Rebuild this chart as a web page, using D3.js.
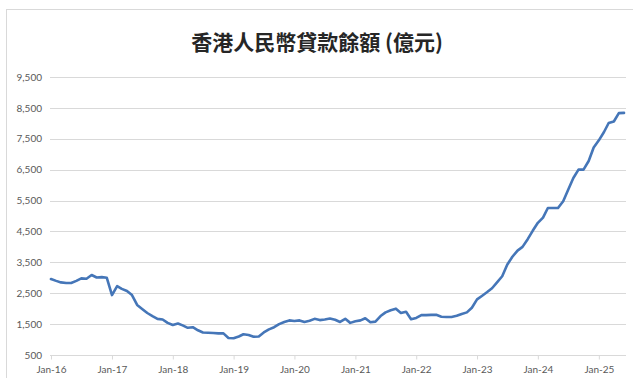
<!DOCTYPE html>
<html><head><meta charset="utf-8">
<script src="https://cdn.jsdelivr.net/npm/d3@7"></script>
<style>body{margin:0;background:#fff;}svg{display:block;}</style>
</head><body>
<svg id="c" width="633" height="378"></svg>
<script>
const title = "香港人民幣貸款餘額 (億元)";
const startMonth = "2016-01";
const values = [
 2960,2900,2850,2830,2830,2900,2980,2970,3090,3010,3020,3000,
 2440,2730,2640,2570,2440,2120,1990,1860,1760,1670,1650,1540,
 1470,1520,1460,1380,1400,1300,1230,1220,1210,1200,1200,1050,
 1040,1100,1170,1150,1090,1100,1230,1330,1400,1500,1570,1620,
 1600,1620,1570,1610,1670,1630,1650,1680,1640,1570,1670,1540,
 1590,1620,1690,1560,1580,1760,1880,1950,2000,1860,1900,1660,
 1700,1790,1790,1800,1800,1740,1730,1730,1770,1830,1880,2030,
 2300,2420,2530,2660,2850,3050,3420,3680,3880,4000,4250,4520,
 4780,4950,5260,5260,5260,5480,5850,6230,6500,6500,6780,7220,
 7450,7720,8010,8060,8330,8340
];
const yTicks = [500,1500,2500,3500,4500,5500,6500,7500,8500,9500];
const xTickLabels = ["Jan-16","Jan-17","Jan-18","Jan-19","Jan-20","Jan-21","Jan-22","Jan-23","Jan-24","Jan-25"];

const svg = d3.select("#c");
const parse = d3.timeParse("%Y-%m");
const t0 = parse(startMonth);
const data = values.map((v,i)=>({d:d3.timeMonth.offset(t0,i), v}));

// frame
svg.append("rect").attr("x",6.5).attr("y",9.5).attr("width",700).attr("height",400)
  .attr("fill","none").attr("stroke","#d9d9d9");

const x = d3.scaleTime().domain([t0, data[data.length-1].d]).range([51,624]);
const y = d3.scaleLinear().domain([500,9500]).range([355,77]);

// gridlines
svg.append("g").selectAll("line").data(yTicks.slice(1)).join("line")
  .attr("x1",50).attr("x2",626).attr("y1",d=>Math.round(y(d))+0.5).attr("y2",d=>Math.round(y(d))+0.5)
  .attr("stroke","#d9d9d9").attr("stroke-width",1);

// y axis labels
const yAxis = d3.axisLeft(y).tickValues(yTicks).tickFormat(d3.format(",")).tickSize(0).tickPadding(0);
const gy = svg.append("g").attr("transform","translate(42,0)").call(yAxis);
gy.select(".domain").remove();
gy.selectAll("text").attr("fill","#595959").style("font-family","Lato, 'Liberation Sans', sans-serif").style("font-size","10px");

// x axis
const janDates = xTickLabels.map((s,i)=>d3.timeYear.offset(t0,i));
const xAxis = d3.axisBottom(x).tickValues(janDates).tickFormat((d,i)=>xTickLabels[i]).tickSize(4).tickPadding(6).tickSizeOuter(0);
const gx = svg.append("g").attr("transform",`translate(0,${Math.round(y(500))+0.5})`).call(xAxis);
gx.select(".domain").attr("d","M50,0H626").attr("stroke","#d9d9d9");
gx.selectAll(".tick line").attr("stroke","#d9d9d9");
gx.selectAll("text").attr("fill","#595959").style("font-family","Lato, 'Liberation Sans', sans-serif").style("font-size","10px");

// line
const line = d3.line().x(d=>x(d.d)).y(d=>y(d.v));
svg.append("path").datum(data).attr("d",line).attr("fill","none")
  .attr("stroke","#4576b8").attr("stroke-width",2.6).attr("stroke-linejoin","round").attr("stroke-linecap","round");

// title
svg.append("text").attr("x",317).attr("y",50).attr("text-anchor","middle")
  .style("font-family","'Noto Sans CJK TC', 'Noto Sans CJK SC', sans-serif").style("font-weight","bold")
  .style("font-size","21px").attr("fill","#262626").text(title);
</script>
</body></html>
